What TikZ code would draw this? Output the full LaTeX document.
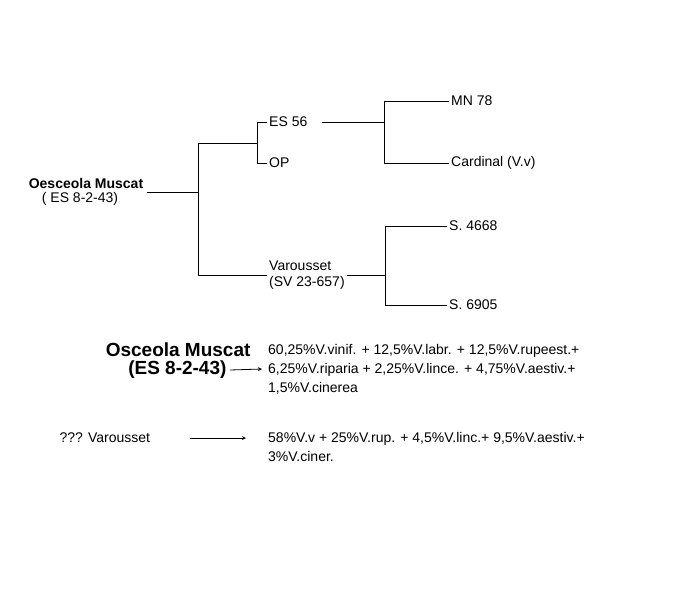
\documentclass[tikz,border=0pt]{standalone}
\usepackage{fontspec}
\setmainfont{Liberation Sans}
\usetikzlibrary{positioning}

\begin{document}
\begin{tikzpicture}[x=1pt, y=-1pt, font=\fontsize{14}{16}\selectfont,
    lbl/.style={anchor=west, inner sep=2pt},
    branch/.style={draw, line width=0.8pt}]
    \useasboundingbox (0,0) rectangle (700,600);

    % Tree labels
    \node[anchor=center, font=\fontsize{14}{16}\bfseries] (root) at (86,183) {Oesceola Muscat};
    \node (rootcode) at (80,199) {( ES 8-2-43)};
    \node[lbl] (es56) at (267,122) {ES 56};
    \node[lbl] (op) at (267,163) {OP};
    \node[lbl, align=left] (var) at (267,275) {Varousset\\(SV 23-657)};
    \node[lbl] (mn78) at (449,101) {MN 78};
    \node[lbl] (card) at (449,163) {Cardinal (V.v)};
    \node[lbl] (s4668) at (447,226) {S. 4668};
    \node[lbl] (s6905) at (447,305) {S. 6905};

    % Branch points
    \coordinate (j1) at (198,192);
    \coordinate (j2) at (257,143);
    \coordinate (j3) at (384,122);
    \coordinate (j4) at (385,275);

    % Connect the branches
    \draw[branch] (root.east |- j1) -- (j1);
    \draw[branch] (j1 |- j2) -- (j1 |- var) -- (var.west);
    \draw[branch] (j1 |- j2) -- (j2);
    \draw[branch] (es56.west) -| (j2 |- op) -- (op.west);
    \draw[branch] ([xshift=12pt]es56.east) -- (j3);
    \draw[branch] (mn78.west) -| (j3 |- card) -- (card.west);
    \draw[branch] (var.east |- j4) -- (j4);
    \draw[branch] (s4668.west) -| (j4 |- s6905) -- (s6905.west);

    % Composition notes
    \node[anchor=east, font=\fontsize{19}{21}\bfseries] (osc) at (254,350) {Osceola Muscat};
    \node[anchor=east, font=\fontsize{19}{21}\bfseries] (osccode) at (230,370) {(ES 8-2-43)};
    \node[lbl, align=left, font=\fontsize{14}{19}\selectfont] (oscmix) at (266,369) {60,25\%V.vinif. + 12,5\%V.labr. + 12,5\%V.rupeest.+\\6,25\%V.riparia + 2,25\%V.lince. + 4,75\%V.aestiv.+\\1,5\%V.cinerea};
    \node[anchor=west] (varq) at (56,438) {??? Varousset};
    \node[lbl, align=left, font=\fontsize{14}{19}\selectfont] (varmix) at (266,447) {58\%V.v + 25\%V.rup. + 4,5\%V.linc.+ 9,5\%V.aestiv.+\\3\%V.ciner.};
    \coordinate (a1) at (262,369);
    \coordinate (a0) at (190,438);
    \coordinate (a2) at (246,438);
    \draw[-stealth, line width=0.8pt] (osccode.east) -- (a1);
    \draw[-stealth, line width=0.8pt] (a0) -- (a2);
\end{tikzpicture}
\end{document}
